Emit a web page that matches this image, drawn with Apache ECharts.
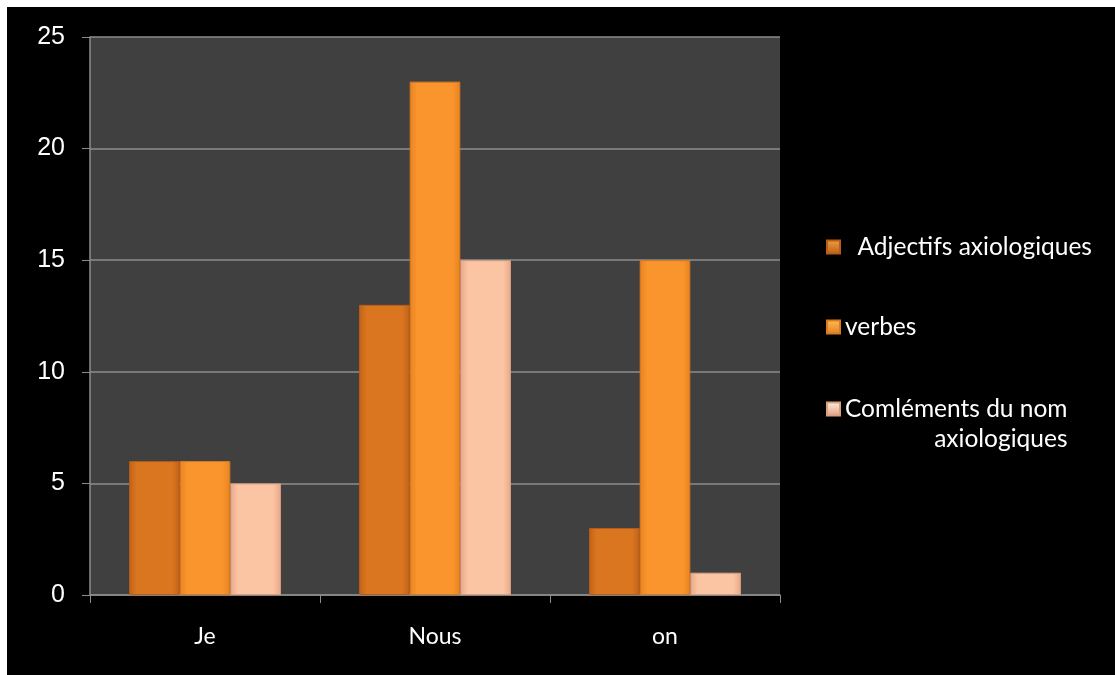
<!DOCTYPE html>
<html>
<head>
<meta charset="utf-8">
<script src="https://cdn.jsdelivr.net/npm/echarts@6/dist/echarts.min.js"></script>
<style>
    html, body { margin: 0; padding: 0; background: #ffffff; }
    #chart { position: absolute; left: 7px; top: 7px; width: 1108px; height: 668px; background: #000000; }
</style>
</head>
<body>
<div id="chart"></div>
<script>
    // data
    const categories = ['Je', 'Nous', 'on']
    const seriesNames = ['Adjectifs axiologiques', 'verbes', 'Comléments du nom axiologiques']
    const adjectifs = [6, 13, 3]
    const verbes = [6, 23, 15]
    const complements = [5, 15, 1]
    const yTicks = [0, 5, 10, 15, 20, 25]

    function barFill(edge, mid) {
        return new echarts.graphic.LinearGradient(0, 0, 1, 0, [
            { offset: 0, color: edge },
            { offset: 0.15, color: mid },
            { offset: 0.85, color: mid },
            { offset: 1, color: edge }
        ])
    }
    function iconFill(top, bottom) {
        return new echarts.graphic.LinearGradient(0, 0, 0, 1, [
            { offset: 0, color: top },
            { offset: 1, color: bottom }
        ])
    }

    const colors = [
        { bar: barFill('#c2621a', '#d9761f'), icon: iconFill('#f0a040', '#b8601a'), border: '#b85c18' },
        { bar: barFill('#e88320', '#f9952c'), icon: iconFill('#ffc050', '#e07f22'), border: '#d97a20' },
        { bar: barFill('#e8a88a', '#fbc4a2'), icon: iconFill('#fff0e0', '#e0a080'), border: '#d9a080' }
    ]
    const values = [adjectifs, verbes, complements]

    const legendText = {
        color: '#ffffff',
        fontFamily: 'Lato',
        fontSize: 24.5,
        lineHeight: 30
    }

    const chart = echarts.init(document.getElementById('chart'))
    const option = {
        backgroundColor: '#000000',
        animation: false,
        grid: {
            left: 83,
            right: 335,
            top: 30,
            bottom: 80,
            show: true,
            backgroundColor: '#404040',
            borderWidth: 0
        },
        legend: [
            {
                orient: 'vertical',
                left: 814,
                top: 220,
                itemWidth: 13,
                itemHeight: 13,
                itemGap: 50,
                icon: 'rect',
                textStyle: legendText,
                formatter: function (name) {
                    return name === seriesNames[0] ? '  ' + name : name
                },
                data: [0, 1].map(i => ({ name: seriesNames[i], itemStyle: { color: colors[i].icon } }))
            },
            {
                // third entry: two right-aligned lines, icon level with the first line
                orient: 'vertical',
                left: 814,
                top: 352,
                itemWidth: 13,
                itemHeight: 13,
                icon: 'rect',
                textStyle: Object.assign({}, legendText, {
                    rich: {
                        r: { color: '#ffffff', fontFamily: 'Lato', fontSize: 24.5, lineHeight: 30, align: 'right' }
                    }
                }),
                formatter: function () {
                    return ' \n{r|Comléments du nom}\n{r|axiologiques}'
                },
                data: [{ name: seriesNames[2], itemStyle: { color: colors[2].icon } }]
            }
        ],
        xAxis: {
            type: 'category',
            data: categories,
            axisLine: { lineStyle: { color: '#8c8c8c', width: 1.5 } },
            axisTick: { show: true, length: 8, lineStyle: { color: '#8c8c8c' } },
            axisLabel: { color: '#ffffff', fontFamily: 'Lato', fontSize: 23, margin: 30 }
        },
        yAxis: {
            type: 'value',
            min: yTicks[0],
            max: yTicks[yTicks.length - 1],
            interval: 5,
            axisLine: { show: true, lineStyle: { color: '#8c8c8c', width: 1.5 } },
            axisTick: { show: true, length: 8, lineStyle: { color: '#8c8c8c' } },
            splitLine: { lineStyle: { color: '#8c8c8c', width: 1.5 } },
            axisLabel: { color: '#ffffff', fontFamily: 'Liberation Sans', fontSize: 25, margin: 25 }
        },
        series: seriesNames.map((n, i) => ({
            name: n,
            type: 'bar',
            data: values[i],
            barGap: '0%',
            barCategoryGap: '34%',
            itemStyle: {
                color: colors[i].bar,
                borderColor: colors[i].border,
                borderWidth: 1
            }
        }))
    }
    chart.setOption(option)
</script>
</body>
</html>
